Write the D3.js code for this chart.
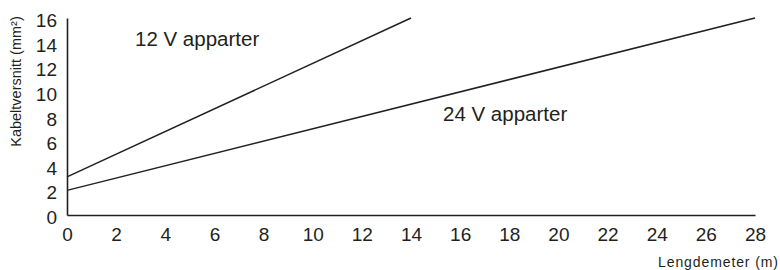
<!DOCTYPE html>
<html>
<head>
<meta charset="utf-8">
<script src="https://cdn.jsdelivr.net/npm/d3@7"></script>
<style>
  body { margin: 0; background: #fff; }
  text { font-family: "Liberation Sans", Arial, sans-serif; fill: #231f20; }
</style>
</head>
<body>
<svg class="chart"></svg>
<script>
var width = 780,
    height = 270;

// data
var lengths12 = [0, 14];
var values12 = [3.1, 16];
var lengths24 = [0, 28];
var values24 = [2, 16];
var xTicks = [0, 2, 4, 6, 8, 10, 12, 14, 16, 18, 20, 22, 24, 26, 28];
var yTicks = [0, 2, 4, 6, 8, 10, 12, 14, 16];
var seriesNames = ["12 V apparter", "24 V apparter"];

var x = d3.scaleLinear()
    .domain([0, 28])
    .range([67, 755]);
var y = d3.scaleLinear()
    .domain([0, 16])
    .range([215, 18]);

var chart = d3.select(".chart")
    .attr("width", width)
    .attr("height", height);

var xAxis = chart.append("g")
    .attr("transform", "translate(0," + y(0) + ")")
    .call(d3.axisBottom(x).tickValues(xTicks).tickSize(0).tickPadding(13).tickSizeOuter(0));
xAxis.select(".domain").attr("stroke", "#231f20").attr("stroke-width", 1.6);
xAxis.selectAll("text").attr("font-size", 19).attr("font-family", "Liberation Sans, Arial, sans-serif").attr("fill", "#231f20");

var yAxis = chart.append("g")
    .attr("transform", "translate(" + x(0) + ",0)")
    .call(d3.axisLeft(y).tickValues(yTicks).tickSize(0).tickPadding(10).tickSizeOuter(0));
yAxis.select(".domain").attr("stroke", "#231f20").attr("stroke-width", 1.6);
yAxis.selectAll("text")
    .attr("font-size", 19)
    .attr("dy", "0.45em")
    .attr("font-family", "Liberation Sans, Arial, sans-serif")
    .attr("fill", "#231f20");

var line = d3.line()
    .x(function(d) { return x(d[0]); })
    .y(function(d) { return y(d[1]); });

chart.append("path")
    .datum(d3.zip(lengths12, values12))
    .attr("fill", "none")
    .attr("stroke", "#231f20")
    .attr("stroke-width", 1.5)
    .attr("d", line);

chart.append("path")
    .datum(d3.zip(lengths24, values24))
    .attr("fill", "none")
    .attr("stroke", "#231f20")
    .attr("stroke-width", 1.5)
    .attr("d", line);

chart.append("text")
    .attr("x", 135)
    .attr("y", 46)
    .attr("font-size", 20.5)
    .text(seriesNames[0]);

chart.append("text")
    .attr("x", 443)
    .attr("y", 121)
    .attr("font-size", 20.5)
    .text(seriesNames[1]);

chart.append("text")
    .attr("transform", "translate(21,81.5) rotate(-90)")
    .attr("text-anchor", "middle")
    .attr("font-size", 14.5)
    .text("Kabeltversnitt (mm²)");

chart.append("text")
    .attr("x", 658)
    .attr("y", 267)
    .attr("font-size", 14)
    .attr("textLength", 120)
    .attr("lengthAdjust", "spacing")
    .text("Lengdemeter (m)");
</script>
</body>
</html>
